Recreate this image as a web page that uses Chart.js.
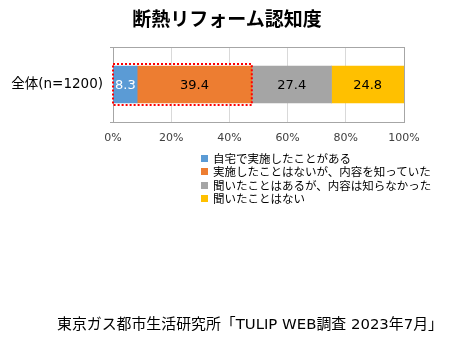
<!DOCTYPE html>
<html lang="ja">
<head>
<meta charset="utf-8">
<script src="https://cdn.jsdelivr.net/npm/chart.js@4"></script>
<style>
  html, body { margin: 0; padding: 0; background: #fff; }
  #wrap { position: relative; width: 450px; height: 343px; font-family: "DejaVu Sans", "Noto Sans CJK JP", sans-serif; color: #000; }
  #title { position: absolute; left: 0; width: 454px; top: 4px; text-align: center; font-family: "Noto Sans CJK JP", sans-serif; font-size: 19px; font-weight: bold; line-height: 28px; }
  #legend { position: absolute; left: 201px; top: 152px; font-family: "Noto Sans CJK JP", sans-serif; font-size: 11.5px; line-height: 13.4px; }
  #legend div { white-space: nowrap; }
  #legend span { display: inline-block; width: 7px; height: 7px; margin-right: 5px; vertical-align: 1px; }
  #source { position: absolute; right: 7px; top: 314px; font-size: 14.9px; line-height: 20px; white-space: nowrap; }
</style>
</head>
<body>
<div id="wrap">
  <canvas id="chart" width="450" height="343"></canvas>
  <div id="title">断熱リフォーム認知度</div>
  <div id="legend"></div>
  <div id="source">東京ガス都市生活研究所「TULIP WEB調査 2023年7月」</div>
</div>
<script>
// data
const categories = ['全体(n=1200)'];
const seriesNames = ['自宅で実施したことがある', '実施したことはないが、内容を知っていた', '聞いたことはあるが、内容は知らなかった', '聞いたことはない'];
const implemented = [8.3];
const knewContent = [39.4];
const heardOnly = [27.4];
const neverHeard = [24.8];
const xTicks = [0, 20, 40, 60, 80, 100];

const colors = ['#5B9BD5', '#ED7D31', '#A5A5A5', '#FFC000'];
const labelColors = ['#ffffff', '#000000', '#000000', '#000000'];
const seriesValues = [implemented, knewContent, heardOnly, neverHeard];

const font = '"DejaVu Sans", "Noto Sans CJK JP", sans-serif';

// value labels inside bars + frame + red dotted box
const extras = {
    id: 'extras',
    beforeDatasetsDraw(chart) {
        const { ctx, chartArea: a } = chart;
        ctx.save();
        ctx.strokeStyle = '#A6A6A6';
        ctx.lineWidth = 1;
        ctx.strokeRect(Math.round(a.left) + 0.5, Math.round(a.top) + 0.5, Math.round(a.right - a.left), Math.round(a.bottom - a.top));
        ctx.restore();
    },
    afterDatasetsDraw(chart) {
        const { ctx, scales } = chart;
        ctx.save();
        ctx.font = '13px ' + font;
        ctx.textAlign = 'center';
        ctx.textBaseline = 'middle';
        chart.data.datasets.forEach((ds, i) => {
            chart.getDatasetMeta(i).data.forEach((bar, j) => {
                ctx.fillStyle = labelColors[i];
                ctx.fillText(ds.data[j].toFixed(1), (bar.x + bar.base) / 2, bar.y + 1);
            });
        });
        // highlight box around first two segments
        const bar = chart.getDatasetMeta(0).data[0];
        const x0 = scales.x.getPixelForValue(0);
        const x1 = scales.x.getPixelForValue(implemented[0] + knewContent[0]);
        const top = bar.y - bar.height / 2 - 2;
        const bottom = bar.y + bar.height / 2 + 2;
        ctx.strokeStyle = '#FF0000';
        ctx.lineWidth = 2;
        ctx.setLineDash([2, 2]);
        ctx.strokeRect(x0, top, x1 - x0, bottom - top);
        ctx.restore();
    }
};

new Chart(document.getElementById('chart'), {
    type: 'bar',
    data: {
        labels: categories,
        datasets: seriesValues.map((v, i) => ({
            label: seriesNames[i],
            data: v,
            backgroundColor: colors[i],
            borderWidth: 0,
            barThickness: 37
        }))
    },
    options: {
        indexAxis: 'y',
        responsive: false,
        animation: false,
        events: [],
        layout: { padding: { left: 0, top: 47, right: 46, bottom: 191 } },
        plugins: { legend: { display: false }, tooltip: { enabled: false } },
        scales: {
            x: {
                stacked: true,
                min: 0,
                max: 100,
                afterBuildTicks: s => { s.ticks = xTicks.map(v => ({ value: v })); },
                afterFit: s => { s.height = 30; },
                grid: { color: '#D9D9D9', drawTicks: false },
                border: { display: false },
                ticks: {
                    padding: 10,
                    color: '#404040',
                    font: { family: font, size: 11 },
                    callback: v => v + '%'
                }
            },
            y: {
                stacked: true,
                afterFit: s => { s.width = 113; },
                grid: { drawOnChartArea: false, color: '#A6A6A6', tickLength: 3 },
                border: { color: '#A6A6A6' },
                ticks: {
                    padding: 7,
                    color: '#000',
                    font: { family: font, size: 13.5 }
                }
            }
        }
    },
    plugins: [extras]
});

// html legend
const legend = document.getElementById('legend');
seriesNames.forEach((name, i) => {
    const row = document.createElement('div');
    row.innerHTML = `<span style="background:${colors[i]}"></span>${name}`;
    legend.appendChild(row);
});
</script>
</body>
</html>
